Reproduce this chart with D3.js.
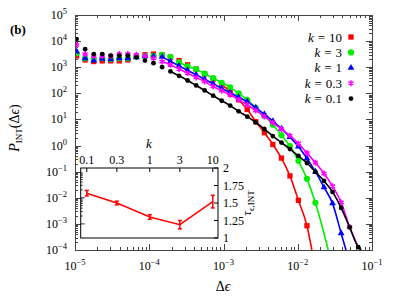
<!DOCTYPE html>
<html>
<head>
<meta charset="utf-8">
<script src="https://cdn.jsdelivr.net/npm/d3@7"></script>
<style>
  body { margin: 0; background: #fff; }
  svg { display: block; font-family: "Liberation Serif", "DejaVu Serif", serif; }
</style>
</head>
<body>
<div id="main"></div>
<script>
// shared x grid (Delta epsilon) of the histograms
const deltaEps = [1.05e-5, 1.37e-5, 1.79e-5, 2.33e-5, 3.03e-5, 3.95e-5, 5.15e-5, 6.71e-5, 8.75e-5,
  1.14e-4, 1.49e-4, 1.93e-4, 2.52e-4, 3.28e-4, 4.28e-4, 5.57e-4, 7.26e-4, 9.46e-4,
  1.23e-3, 1.60e-3, 2.09e-3, 2.72e-3, 3.55e-3, 4.62e-3, 6.03e-3, 7.85e-3,
  1.02e-2, 1.33e-2, 1.73e-2, 2.26e-2, 2.94e-2, 3.84e-2, 5.00e-2, 6.52e-2];

const pK10 = [2.7e3, 1.9e3, 1.65e3, 1.75e3, 1.75e3, 1.75e3, 1.9e3, 2.7e3, 3.0e3, 3.2e3, 3.0e3, 2.4e3,
  1.8e3, 1.24e3, 850, 550, 350, 215, 118, 57, 24, 8.2, 3.1, 1.1, 0.33, 0.069, 0.008, 8.5e-4];
const pK3 = [3.45e3, 2.2e3, 2.05e3, 2.2e3, 2.05e3, 2.2e3, 2.2e3, 2.55e3, 2.7e3, 2.7e3, 2.95e3, 2.5e3,
  1.55e3, 1.08e3, 840, 565, 380, 255, 170, 100, 56, 28, 14, 6.3, 2.5, 0.96, 0.26, 0.053, 0.0064];
const pK1 = [3.97e3, 2.2e3, 1.8e3, 2.1e3, 2.0e3, 2.2e3, 2.2e3, 2.4e3, 2.6e3, 2.6e3, 2.5e3, 1.68e3,
  1.13e3, 760, 513, 345, 232, 157, 105, 71, 48, 28, 15.9, 8.6, 4.45, 2.1, 0.92, 0.32, 0.10, 0.025, 0.0061, 4.4e-4];
const pK03 = [7.2e3, 3.2e3, 2.7e3, 2.7e3, 2.7e3, 3.2e3, 3.2e3, 3.0e3, 2.7e3, 2.2e3, 1.65e3, 1.24e3,
  850, 595, 405, 285, 183, 126, 88, 57, 36.7, 22, 13, 7.5, 4.3, 2.4, 1.2, 0.52, 0.22, 0.085, 0.028, 0.0067, 7.5e-4];
const pK01 = [1.2e4, 4.9e3, 3.2e3, 3.2e3, 2.8e3, 2.8e3, 2.8e3, 2.4e3, 1.8e3, 1.43e3, 1.0e3, 690,
  470, 310, 200, 129, 81, 52, 34, 20.4, 12.8, 7.7, 4.3, 2.3, 1.3, 0.73, 0.40, 0.215, 0.098, 0.044, 0.0168, 0.0041, 7.4e-4, 1.3e-4];

// where the fitted curve starts (grid index) and where it leaves the frame
const kLabels = ["10", "3", "1", "0.3", "0.1"];
const fitStart = [17, 12, 10, 10, 11];
const fitEndEps = [0.0155, 0.0257, 0.0446, 0.0683, 0.0717];

const xTickExps = [-5, -4, -3, -2, -1];
const yTickExps = [-4, -3, -2, -1, 0, 1, 2, 3, 4, 5];

// inset: tau_INT vs k
const kVals = [0.1, 0.3, 1, 3, 10];
const tauInt = [1.64, 1.50, 1.30, 1.19, 1.52];
const tauErr = [0.04, 0.026, 0.033, 0.06, 0.09];
const kTickLabels = ["0.1", "0.3", "1", "3", "10"];
const tauTicks = [1, 1.25, 1.5, 1.75, 2];

const series = [
  {label: kLabels[0], p: pK10, color: "#ff0000", sym: d3.symbolSquare, size: 28},
  {label: kLabels[1], p: pK3, color: "#00ee00", sym: d3.symbolCircle, size: 30},
  {label: kLabels[2], p: pK1, color: "#0000ff", sym: d3.symbolTriangle, size: 20},
  {label: kLabels[3], p: pK03, color: "#ff00ff", sym: d3.symbolAsterisk || d3.symbolStar, size: 24, stroke: true},
  {label: kLabels[4], p: pK01, color: "#000000", sym: d3.symbolCircle, size: 18}
];
series.forEach((s, i) => { s.start = fitStart[i]; s.end = fitEndEps[i]; });

const W = 400, H = 300;
const svg = d3.select("#main").append("svg").attr("width", W).attr("height", H);

const box = {left: 75, right: 372, top: 15, bottom: 250};
const x = d3.scaleLog().domain([1e-5, 1e-1]).range([box.left, box.right]);
const y = d3.scaleLog().domain([1e-4, 1e5]).range([box.bottom, box.top]);

svg.append("clipPath").attr("id", "clip")
  .append("rect").attr("x", box.left).attr("y", box.top)
  .attr("width", box.right - box.left).attr("height", box.bottom - box.top);

// ticks (inward, mirrored on all sides)
const axisCol = "#444";
const ticks = svg.append("g").attr("stroke", axisCol).attr("stroke-width", 1);
xTickExps.forEach(e => {
  const mults = e < -1 ? [1, 2, 3, 4, 5, 6, 7, 8, 9] : [1];
  mults.forEach(m => {
    const v = m * Math.pow(10, e), px = Math.round(x(v)) + 0.5, len = m === 1 ? 6 : 3;
    ticks.append("line").attr("x1", px).attr("x2", px).attr("y1", box.bottom).attr("y2", box.bottom - len);
    ticks.append("line").attr("x1", px).attr("x2", px).attr("y1", box.top).attr("y2", box.top + len);
  });
});
yTickExps.forEach(e => {
  const mults = e < 5 ? [1, 2, 3, 4, 5, 6, 7, 8, 9] : [1];
  mults.forEach(m => {
    const v = m * Math.pow(10, e), py = Math.round(y(v)) + 0.5, len = m === 1 ? 6 : 3;
    ticks.append("line").attr("y1", py).attr("y2", py).attr("x1", box.left).attr("x2", box.left + len);
    ticks.append("line").attr("y1", py).attr("y2", py).attr("x1", box.right).attr("x2", box.right - len);
  });
});

// power-of-ten labels
function powLabel(g, e) {
  g.append("tspan").text("10");
  g.append("tspan").attr("dy", -5).attr("font-size", 8.5).text(e < 0 ? "\u2212" + (-e) : e);
}
xTickExps.forEach(e => {
  const t = svg.append("text").attr("x", x(Math.pow(10, e))).attr("y", 270)
    .attr("text-anchor", "middle").attr("font-size", 12);
  powLabel(t, e);
});
yTickExps.forEach(e => {
  const t = svg.append("text").attr("x", 67).attr("y", y(Math.pow(10, e)) + 4)
    .attr("text-anchor", "end").attr("font-size", 12);
  powLabel(t, e);
});

// data: markers and fitted curves
const plot = svg.append("g").attr("clip-path", "url(#clip)");
const line = d3.line().x(d => x(d[0])).y(d => y(d[1])).curve(d3.curveMonotoneX);
series.forEach(s => {
  const pts = s.p.map((v, i) => [deltaEps[i], v]);
  const fit = pts.slice(s.start).concat([[s.end, 1e-4]]);
  plot.append("path").datum(fit).attr("d", line)
    .attr("fill", "none").attr("stroke", s.color).attr("stroke-width", 1.6);
  const sym = d3.symbol().type(s.sym).size(s.size);
  plot.selectAll(null).data(pts).join("path")
    .attr("transform", d => `translate(${x(d[0])},${y(d[1])})`)
    .attr("d", sym)
    .attr("fill", s.stroke ? "none" : s.color)
    .attr("stroke", s.stroke ? s.color : "none")
    .attr("stroke-width", 1.5);
});

// frame
svg.append("rect").attr("x", box.left + 0.5).attr("y", box.top + 0.5)
  .attr("width", box.right - box.left).attr("height", box.bottom - box.top)
  .attr("fill", "none").attr("stroke", axisCol).attr("stroke-width", 1);

// legend
const legend = svg.append("g").attr("font-size", 13);
series.forEach((s, i) => {
  const cy = 37 + i * 15.4;
  const t = legend.append("text").attr("x", 342).attr("y", cy + 4.5).attr("text-anchor", "end");
  t.append("tspan").attr("font-style", "italic").text("k");
  t.append("tspan").attr("dx", 4).text("=");
  t.append("tspan").attr("dx", 4).text(s.label);
  legend.append("path").attr("transform", `translate(351,${cy})`)
    .attr("d", d3.symbol().type(s.sym).size(s.size))
    .attr("fill", s.stroke ? "none" : s.color)
    .attr("stroke", s.stroke ? s.color : "none").attr("stroke-width", 1.5);
});

// axis titles
svg.append("text").attr("x", 10).attr("y", 34).attr("font-size", 13).attr("font-weight", "bold").text("(b)");
const yl = svg.append("text").attr("transform", "translate(19,128) rotate(-90)")
  .attr("text-anchor", "middle").attr("font-size", 14);
yl.append("tspan").attr("font-style", "italic").text("P");
yl.append("tspan").attr("font-size", 9).attr("dy", 3).text("INT");
yl.append("tspan").attr("dy", -3).text("(\u0394");
yl.append("tspan").attr("font-style", "italic").text("\u03f5");
yl.append("tspan").text(")");
const xl = svg.append("text").attr("x", 223).attr("y", 291).attr("text-anchor", "middle").attr("font-size", 14);
xl.append("tspan").text("\u0394");
xl.append("tspan").attr("font-style", "italic").text("\u03f5");

// inset
const ib = {left: 80.7, right: 218, top: 168, bottom: 238};
const ix = d3.scaleLog().domain([0.08, 12.1]).range([ib.left, ib.right]);
const iy = d3.scaleLinear().domain([1, 2]).range([ib.bottom, ib.top]);
const inset = svg.append("g");
inset.append("rect").attr("x", ib.left).attr("y", ib.top)
  .attr("width", ib.right - ib.left).attr("height", ib.bottom - ib.top)
  .attr("fill", "#fff").attr("stroke", "#000").attr("stroke-width", 1);

kVals.forEach((k, i) => {
  inset.append("line").attr("x1", ix(k)).attr("x2", ix(k)).attr("y1", ib.top).attr("y2", ib.top + 4)
    .attr("stroke", "#000");
  inset.append("text").attr("x", ix(k)).attr("y", 164).attr("text-anchor", "middle")
    .attr("font-size", 12).text(kTickLabels[i]);
});
tauTicks.forEach(v => {
  inset.append("line").attr("x1", ib.right).attr("x2", ib.right - 4).attr("y1", iy(v)).attr("y2", iy(v))
    .attr("stroke", "#000");
  inset.append("text").attr("x", 223).attr("y", iy(v) + 4).attr("font-size", 12).text(v);
});
// small log ticks on the inset's left edge
d3.range(-3, -1).forEach(e => {
  [1, 2, 3, 4, 5, 6, 7, 8, 9].forEach(m => {
    const py = y(m * Math.pow(10, e));
    if (py > ib.top + 2 && py < ib.bottom - 2)
      inset.append("line").attr("x1", ib.left).attr("x2", ib.left + (m === 1 ? 4 : 2))
        .attr("y1", py).attr("y2", py).attr("stroke", "#000").attr("stroke-width", 0.8);
  });
});
inset.append("text").attr("x", 149).attr("y", 148).attr("text-anchor", "middle")
  .attr("font-size", 13).attr("font-style", "italic").text("k");
const tl = inset.append("text").attr("transform", "translate(251,203) rotate(-90)")
  .attr("text-anchor", "middle").attr("font-size", 13);
tl.append("tspan").attr("font-style", "italic").text("\u03c4");
tl.append("tspan").attr("font-size", 9).attr("dy", 3).text("\u03f5,INT");

const tauPts = kVals.map((k, i) => ({k: k, t: tauInt[i], e: tauErr[i]}));
inset.append("path").datum(tauPts)
  .attr("d", d3.line().x(d => ix(d.k)).y(d => iy(d.t)))
  .attr("fill", "none").attr("stroke", "#ff0000").attr("stroke-width", 1.5);
const eb = inset.selectAll(null).data(tauPts).join("g").attr("stroke", "#ff0000").attr("stroke-width", 1.5);
eb.append("line").attr("x1", d => ix(d.k)).attr("x2", d => ix(d.k))
  .attr("y1", d => iy(d.t - d.e)).attr("y2", d => iy(d.t + d.e));
eb.append("line").attr("x1", d => ix(d.k) - 2).attr("x2", d => ix(d.k) + 2)
  .attr("y1", d => iy(d.t - d.e)).attr("y2", d => iy(d.t - d.e));
eb.append("line").attr("x1", d => ix(d.k) - 2).attr("x2", d => ix(d.k) + 2)
  .attr("y1", d => iy(d.t + d.e)).attr("y2", d => iy(d.t + d.e));
</script>
</body>
</html>
